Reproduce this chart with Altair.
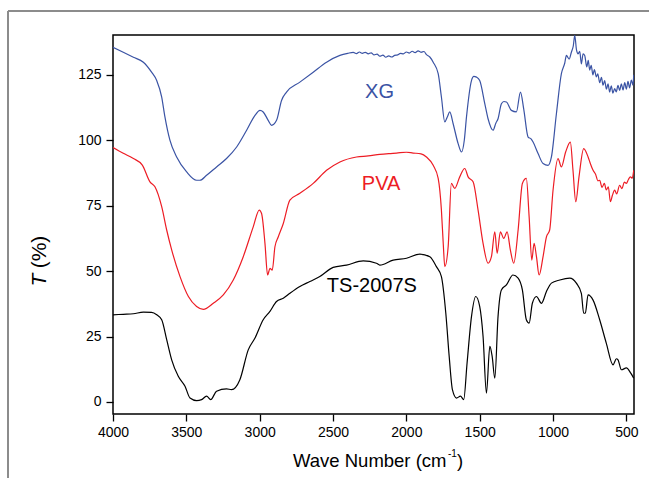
import altair as alt
import pandas as pd

# ---------------- data ----------------
xg_wn = [4000, 3930, 3861, 3793, 3737, 3702, 3668, 3646, 3612, 3566, 3498, 3430, 3407, 3362, 3294,
         3226, 3157, 3089, 3032, 2998, 2976, 2942, 2919, 2885, 2851, 2817, 2726, 2635, 2544, 2453,
         2400, 2362, 2340, 2320, 2300, 2280, 2260, 2240, 2220, 2200, 2181, 2160, 2140, 2120, 2100,
         2080, 2060, 2040, 2020, 2000, 1980, 1960, 1940, 1920, 1900, 1880, 1863, 1840, 1817, 1783,
         1761, 1738, 1720, 1704, 1681, 1647, 1624, 1605, 1590, 1556, 1540, 1522, 1500, 1465, 1443,
         1409, 1390, 1375, 1352, 1335, 1318, 1284, 1250, 1222, 1200, 1170, 1150, 1136, 1102, 1068,
         1034, 1011, 977, 943, 920, 909, 890, 875, 862, 852, 840, 829, 818, 807, 795, 784,
         770, 760, 750, 740, 728, 718, 705, 695, 682, 670, 659, 648, 636, 625, 614, 603,
         592, 580, 569, 557, 546, 534, 523, 511, 500, 489, 478, 466, 455, 450]
xg_t = [135.5, 133.6, 131.7, 129.8, 126.0, 122.8, 116.5, 108.9, 100.0, 93.6, 87.9, 84.7, 84.7, 86.6, 89.8,
        93.0, 97.4, 103.8, 109.5, 111.4, 110.8, 107.6, 105.7, 107.6, 115.2, 118.4, 122.2, 126.0, 129.8, 132.4,
        133.2, 133.6, 133.1, 133.7, 133.2, 133.6, 133.0, 133.4, 132.6, 132.9, 132.1, 132.5, 131.7, 132.2, 131.8,
        132.4, 132.6, 133.2, 133.0, 133.7, 133.3, 134.0, 133.5, 134.1, 133.6, 133.9, 132.7, 131.8, 129.8, 125.4,
        116.5, 107.0, 109.0, 110.8, 106.3, 98.7, 95.5, 100.0, 108.9, 122.8, 124.4, 124.1, 122.8, 113.9, 108.2,
        103.8, 106.5, 108.2, 113.9, 114.8, 114.6, 111.4, 110.8, 118.4, 112.0, 101.2, 100.5, 99.3, 94.9, 91.1,
        90.4, 93.6, 110.1, 125.4, 129.5, 132.4, 131.0, 133.6, 136.0, 140.0, 134.5, 133.0, 134.0, 129.2, 133.0, 132.4,
        128.0, 130.5, 126.8, 128.6, 125.0, 127.0, 124.2, 125.4, 122.0, 124.0, 121.0, 122.8, 119.5, 121.5, 118.4, 120.8,
        118.0, 119.7, 118.5, 121.0, 119.0, 121.5, 119.2, 122.0, 119.5, 122.5, 120.0, 123.0, 121.0, 125.0]

pva_wn = [4000, 3930, 3861, 3800, 3748, 3714, 3668, 3634, 3600, 3543, 3486, 3430, 3384, 3316, 3248,
          3180, 3112, 3044, 3003, 2987, 2964, 2946, 2930, 2914, 2896, 2873, 2839, 2794, 2726, 2635,
          2544, 2453, 2340, 2260, 2181, 2120, 2067, 2000, 1954, 1900, 1863, 1817, 1783, 1761, 1748,
          1738, 1715, 1693, 1670, 1636, 1602, 1579, 1545, 1511, 1477, 1443, 1420, 1397, 1381, 1359,
          1336, 1313, 1291, 1268, 1238, 1209, 1182, 1163, 1145, 1129, 1113, 1095, 1068, 1045, 1023,
          1000, 966, 943, 914, 882, 864, 845, 823, 791, 761, 745, 727, 710, 694, 682, 666,
          650, 637, 623, 609, 595, 580, 566, 546, 530, 514, 500, 486, 473, 460, 450]
pva_t = [97.2, 95.0, 93.0, 90.5, 84.1, 82.2, 74.6, 65.7, 58.1, 47.9, 40.3, 36.5, 35.4, 37.7, 40.9,
         46.6, 55.5, 66.9, 73.3, 72.0, 60.6, 48.5, 51.0, 50.4, 59.3, 63.1, 68.2, 77.1, 79.7, 83.5,
         88.5, 91.7, 93.6, 94.0, 94.6, 94.9, 95.1, 95.4, 95.1, 94.8, 93.6, 90.4, 85.4, 73.3, 60.0,
         51.7, 59.3, 83.5, 81.6, 86.0, 89.2, 86.0, 84.1, 73.3, 60.6, 53.0, 55.5, 65.0, 56.8, 65.0,
         62.5, 65.0, 58.1, 53.0, 65.7, 83.5, 85.4, 70.8, 54.2, 60.6, 55.5, 48.5, 55.5, 63.1, 65.7,
         80.9, 93.0, 89.8, 95.5, 99.3, 88.5, 76.5, 86.0, 96.8, 93.6, 91.0, 88.5, 87.0, 84.5, 84.7, 82.0,
         83.5, 81.0, 82.2, 76.5, 79.0, 80.9, 79.5, 82.8, 81.5, 84.0, 83.5, 85.0, 86.0, 85.5, 88.5]

ts_wn = [4000, 3930, 3861, 3793, 3737, 3702, 3668, 3634, 3600, 3555, 3509, 3475, 3430, 3396, 3362,
         3334, 3294, 3226, 3192, 3135, 3078, 3032, 2976, 2930, 2885, 2839, 2794, 2726, 2658, 2590,
         2499, 2408, 2294, 2204, 2181, 2090, 1999, 1908, 1840, 1795, 1761, 1731, 1708, 1686, 1658,
         1631, 1609, 1586, 1556, 1527, 1500, 1477, 1454, 1431, 1415, 1397, 1375, 1352, 1318, 1273,
         1238, 1209, 1182, 1163, 1141, 1113, 1079, 1045, 1011, 954, 886, 841, 807, 791, 780,
         761, 727, 682, 637, 591, 568, 557, 534, 500, 470, 450]
ts_t = [33.3, 33.5, 33.7, 34.3, 34.2, 33.3, 31.4, 23.8, 16.1, 9.8, 6.0, 1.5, 0.5, 0.9, 2.2,
        0.9, 4.1, 5.0, 4.7, 8.5, 19.9, 24.4, 31.4, 34.6, 38.4, 39.6, 41.5, 44.1, 46.0, 47.9,
        51.4, 52.3, 53.9, 53.0, 52.3, 54.2, 54.9, 56.5, 55.5, 51.7, 47.9, 33.9, 17.4, 4.7, 1.5,
        2.2, 0.9, 14.9, 32.6, 40.3, 36.5, 25.0, 3.4, 21.2, 17.4, 9.1, 32.6, 42.8, 44.7, 48.5,
        47.3, 42.8, 31.4, 30.1, 37.7, 40.3, 37.7, 42.2, 45.4, 46.6, 47.3, 45.4, 41.5, 33.9, 33.9,
        40.9, 38.9, 31.4, 22.5, 14.2, 16.5, 16.1, 12.3, 13.0, 11.0, 9.1]

series_names = ["XG", "PVA", "TS-2007S"]
series_colors = ["#3A53A4", "#ED1C24", "#000000"]

label_wn = [2183, 2172, 2235]
label_t = [116.0, 81.0, 42.0]

x_tick_values = [500, 750, 1000, 1250, 1500, 1750, 2000, 2250, 2500, 2750, 3000, 3250, 3500, 3750, 4000]
y_tick_values = [0, 12.5, 25, 37.5, 50, 62.5, 75, 87.5, 100, 112.5, 125, 137.5]

# ---------------- tables ----------------
rows = []
for name, wn, t in [("XG", xg_wn, xg_t), ("PVA", pva_wn, pva_t), ("TS-2007S", ts_wn, ts_t)]:
    for w, v in zip(wn, t):
        rows.append({"series": name, "wn": w, "t": v})
df = pd.DataFrame(rows)
labels_df = pd.DataFrame({"series": series_names, "wn": label_wn, "t": label_t})

FONT = "Liberation Sans"
W, H = 521, 379
PAD_L, PAD_T = 113, 35

xscale = alt.Scale(domain=[448, 4000], reverse=True, nice=False, zero=False)
yscale = alt.Scale(domain=[-4.6, 140.2], nice=False, zero=False)
cscale = alt.Scale(domain=series_names, range=series_colors)

x_axis = alt.Axis(
    values=x_tick_values, format="d", title=None, grid=False, domain=False,
    labelExpr="datum.value % 500 === 0 ? datum.label : ''",
    tickSize={"condition": {"test": "datum.value % 500 === 0", "value": 7}, "value": 4},
    tickColor="black", tickWidth=1.3, labelColor="black", labelFontSize=14,
    labelFont=FONT, labelPadding=4, labelFlush=False, labelOverlap=False,
)
y_axis = alt.Axis(
    values=y_tick_values, format="d", title=None, grid=False, domain=False,
    labelExpr="datum.value % 25 === 0 ? datum.label : ''",
    tickSize={"condition": {"test": "datum.value % 25 === 0", "value": 7}, "value": 4},
    tickColor="black", tickWidth=1.3, labelColor="black", labelFontSize=14,
    labelFont=FONT, labelPadding=5, labelFlush=False, labelOverlap=False,
)

lines = alt.Chart(df).mark_line(strokeWidth=1.2, clip=True, interpolate="monotone").encode(
    x=alt.X("wn:Q", scale=xscale, axis=x_axis),
    y=alt.Y("t:Q", scale=yscale, axis=y_axis),
    color=alt.Color("series:N", scale=cscale, legend=None),
)

labels = alt.Chart(labels_df).mark_text(
    font=FONT, fontSize=20, align="center", baseline="alphabetic"
).encode(
    x=alt.X("wn:Q", scale=xscale),
    y=alt.Y("t:Q", scale=yscale),
    text="series:N",
    color=alt.Color("series:N", scale=cscale, legend=None),
)

# axis titles
x_title_main = alt.Chart(pd.DataFrame({"s": ["Wave Number (cm"]})).mark_text(
    font=FONT, fontSize=18.5, align="right", baseline="alphabetic", color="black"
).encode(text="s:N", x=alt.value(446.5 - PAD_L), y=alt.value(466.5 - PAD_T))
x_title_sup = alt.Chart(pd.DataFrame({"s": ["-1"]})).mark_text(
    font=FONT, fontSize=10, align="left", baseline="alphabetic", color="black"
).encode(text="s:N", x=alt.value(448 - PAD_L), y=alt.value(457 - PAD_T))
x_title_close = alt.Chart(pd.DataFrame({"s": [")"]})).mark_text(
    font=FONT, fontSize=18.5, align="left", baseline="alphabetic", color="black"
).encode(text="s:N", x=alt.value(457 - PAD_L), y=alt.value(466.5 - PAD_T))

y_title_t = alt.Chart(pd.DataFrame({"s": ["T"]})).mark_text(
    font=FONT, fontSize=21, fontStyle="italic", align="center", baseline="middle",
    angle=270, color="black"
).encode(text="s:N", x=alt.value(40 - PAD_L), y=alt.value(280 - PAD_T))
y_title_rest = alt.Chart(pd.DataFrame({"s": ["(%)"]})).mark_text(
    font=FONT, fontSize=21, align="center", baseline="middle",
    angle=270, color="black"
).encode(text="s:N", x=alt.value(40 - PAD_L), y=alt.value(252 - PAD_T))

# outer grey frame (left and top edges)
frame_v = alt.Chart(pd.DataFrame({"a": [0]})).mark_rule(color="#8C8C8C", strokeWidth=2).encode(
    x=alt.value(8 - PAD_L), y=alt.value(11 - PAD_T), y2=alt.value(490 - PAD_T)
)
frame_h = alt.Chart(pd.DataFrame({"a": [0]})).mark_rule(color="#8C8C8C", strokeWidth=2).encode(
    x=alt.value(8 - PAD_L), x2=alt.value(660 - PAD_L), y=alt.value(11 - PAD_T)
)

chart = alt.layer(
    frame_v, frame_h, lines, labels, x_title_main, x_title_sup, x_title_close, y_title_t, y_title_rest
).properties(
    width=W, height=H,
    autosize=alt.AutoSizeParams(type="none"),
    padding={"left": PAD_L, "top": PAD_T, "right": 649 - PAD_L - W, "bottom": 478 - PAD_T - H},
    background="white",
).configure_view(stroke="black", strokeWidth=1.5)

chart.save("out.html", embed_options={"renderer": "svg", "actions": False})
